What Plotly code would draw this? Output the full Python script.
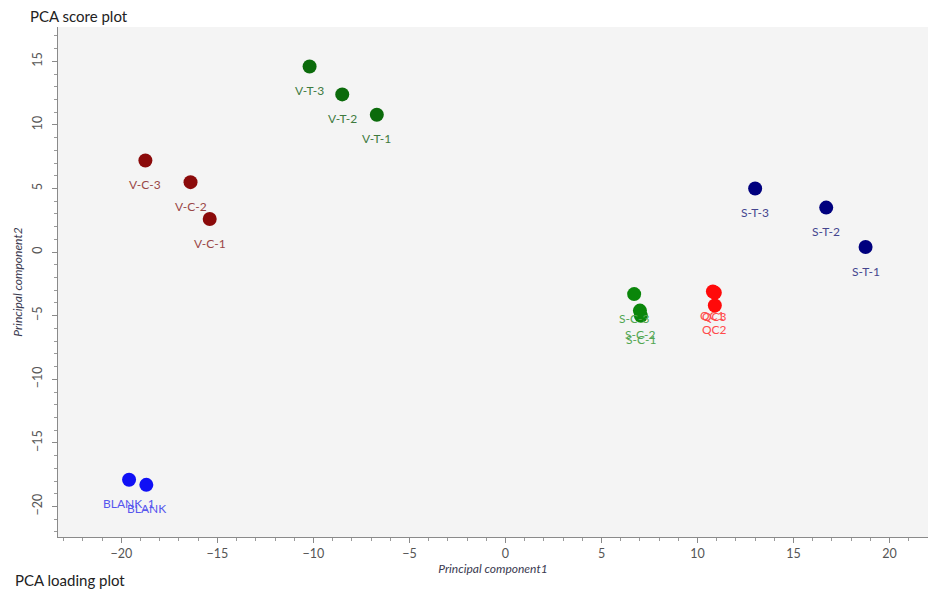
import plotly.graph_objects as go

# PCA scores per sample group
groups = ["V-T", "V-C", "S-T", "S-C", "QC", "BLANK"]
labels = {
    "V-T": ["V-T-3", "V-T-2", "V-T-1"],
    "V-C": ["V-C-3", "V-C-2", "V-C-1"],
    "S-T": ["S-T-3", "S-T-2", "S-T-1"],
    "S-C": ["S-C-3", "S-C-2", "S-C-1"],
    "QC": ["QC1", "QC3", "QC2"],
    "BLANK": ["BLANK_1", "BLANK"],
}
pc1 = {
    "V-T": [-10.2, -8.5, -6.7],
    "V-C": [-18.75, -16.4, -15.4],
    "S-T": [13.0, 16.7, 18.75],
    "S-C": [6.7, 7.0, 7.05],
    "QC": [10.8, 10.9, 10.9],
    "BLANK": [-19.6, -18.7],
}
pc2 = {
    "V-T": [14.6, 12.4, 10.8],
    "V-C": [7.2, 5.5, 2.6],
    "S-T": [5.0, 3.5, 0.4],
    "S-C": [-3.3, -4.6, -5.0],
    "QC": [-3.1, -3.2, -4.2],
    "BLANK": [-17.9, -18.3],
}
marker_colors = {
    "V-T": "#0b6b0b", "V-C": "#8b0a0a", "S-T": "#00007e",
    "S-C": "#0a860a", "QC": "#ff0a0a", "BLANK": "#1010f5",
}
label_colors = {
    "V-T": "#3e7a3e", "V-C": "#9a4646", "S-T": "#45458f",
    "S-C": "#52a652", "QC": "#ff4a4a", "BLANK": "#5656ee",
}

FONT = "Lato, 'Open Sans', sans-serif"

fig = go.Figure()
annotations = []
for g in groups:
    fig.add_trace(go.Scatter(
        x=pc1[g], y=pc2[g], mode="markers", name=g,
        marker=dict(size=14, color=marker_colors[g]),
        showlegend=False, hoverinfo="text", text=labels[g],
    ))
    for xv, yv, lab in zip(pc1[g], pc2[g], labels[g]):
        annotations.append(dict(
            x=xv, y=yv, xref="x", yref="y", text=lab, showarrow=False,
            yshift=-24, font=dict(family=FONT, size=12, color=label_colors[g]),
        ))

# headings placed in pixel coordinates, converted to paper units below
W, H = 928, 592
ML, MR, MT, MB = 58, 0, 27, 55
pw, ph = W - ML - MR, H - MT - MB
for text, px, py in [("PCA score plot", 28, 16), ("PCA loading plot", 13, 580)]:
    annotations.append(dict(
        x=(px - ML) / pw, y=(H - MB - py) / ph, xref="paper", yref="paper",
        text=text, showarrow=False, xanchor="left", yanchor="middle",
        font=dict(family=FONT, size=15, color="#222222"),
    ))

axis_common = dict(
    showgrid=False, zeroline=False, showline=True, linecolor="#8a8a8a",
    linewidth=1, ticks="outside", ticklen=5, tickcolor="#8a8a8a",
    tickfont=dict(family=FONT, size=12.5, color="#555555"),
    minor=dict(ticks="outside", ticklen=3, tickcolor="#9a9a9a", dtick=1),
    mirror=False,
)

fig.update_layout(
    width=W, height=H,
    margin=dict(l=ML, r=MR, t=MT, b=MB),
    paper_bgcolor="white", plot_bgcolor="#f4f4f4",
    annotations=annotations,
    xaxis=dict(
        range=[-23.3, 22.0], dtick=5, tick0=0,
        title=dict(text="<i>Principal component1</i>", standoff=2,
                   font=dict(family=FONT, size=12, color="#3a3a50")),
        **axis_common,
    ),
    yaxis=dict(
        range=[-22.4, 17.7], dtick=5, tick0=0, tickangle=-90,
        ticklabelstandoff=5,
        title=dict(text="<i>Principal component2</i>", standoff=4,
                   font=dict(family=FONT, size=12, color="#3a3a50")),
        **axis_common,
    ),
)

fig.write_html("out.html")
